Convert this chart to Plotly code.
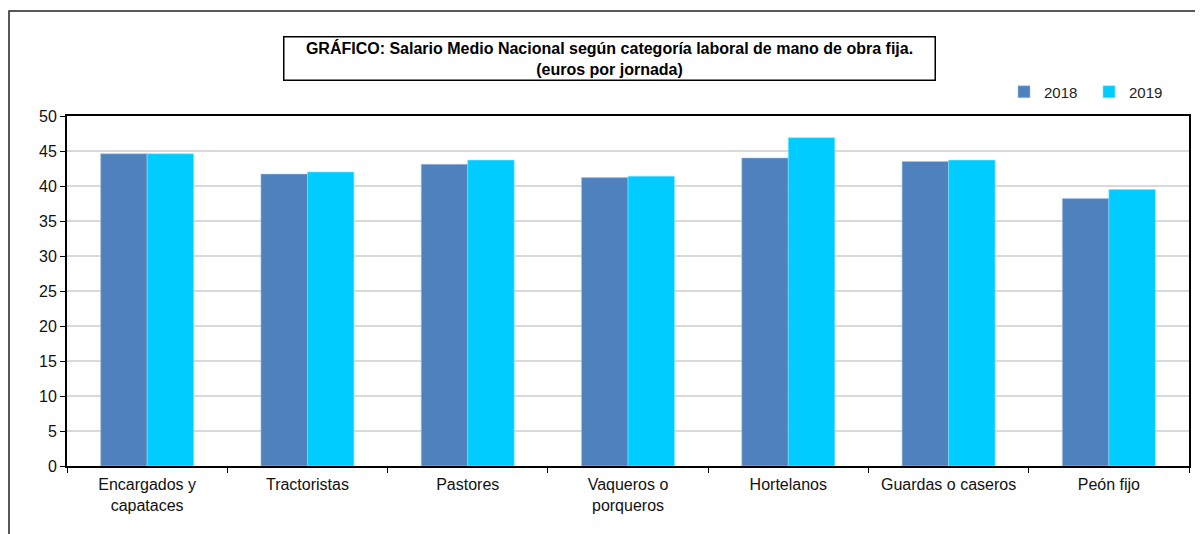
import plotly.graph_objects as go

categories = ["Encargados y<br>capataces", "Tractoristas", "Pastores", "Vaqueros o<br>porqueros",
              "Hortelanos", "Guardas o caseros", "Peón fijo"]
values_2018 = [44.6, 41.7, 43.1, 41.2, 44.0, 43.5, 38.2]
values_2019 = [44.6, 42.0, 43.7, 41.4, 46.9, 43.7, 39.5]
y_ticks = [0, 5, 10, 15, 20, 25, 30, 35, 40, 45, 50]
title_text = ("<b>GRÁFICO: Salario Medio Nacional según categoría laboral de mano de obra fija.</b><br>"
              "<b>(euros por jornada)</b>")

FONT = "Liberation Sans, Arial, sans-serif"
# the page body adds an 8px offset; the figure is sized so it ends at the window edges
OFF = 8
WIN_W, WIN_H = 1203, 534
PL, PR, PT, PB = 67, 1189, 116, 466   # plot area in window pixels
W, H = WIN_W - OFF, WIN_H - OFF
L, R, T, B = PL - OFF, WIN_W - PR, PT - OFF, WIN_H - PB
pw, ph = PR - PL, PB - PT

def px(x):
    return (x - PL) / pw

def py(y):
    return (PB - y) / ph

fig = go.Figure()
fig.add_trace(go.Bar(name="2018", x=categories, y=values_2018,
                     marker=dict(color="#4F81BD", line=dict(color="#A9C1E0", width=0.6))))
fig.add_trace(go.Bar(name="2019", x=categories, y=values_2019,
                     marker=dict(color="#00CCFF", line=dict(color="#7FE5FF", width=0.6))))

fig.update_layout(
    width=W, height=H,
    margin=dict(l=L, r=R, t=T, b=B, pad=0),
    paper_bgcolor="white", plot_bgcolor="white",
    font=dict(family=FONT, size=16, color="black"),
    barmode="group", bargap=0.42, bargroupgap=0,
    showlegend=True,
    legend=dict(orientation="h", x=px(1004), xanchor="left", y=py(92), yanchor="middle",
                font=dict(size=15, color="#222222"), entrywidth=40, entrywidthmode="pixels",
                bgcolor="rgba(0,0,0,0)", traceorder="normal"),
    xaxis=dict(type="category", showline=True, linecolor="black", linewidth=2, mirror=True,
               ticks="outside", tickson="boundaries", ticklen=5, tickcolor="black",
               ticklabelstandoff=3,
               showgrid=False, tickfont=dict(size=16, color="#111111"), automargin=False),
    yaxis=dict(range=[0, 50], tickvals=y_ticks, showline=True, linecolor="black", linewidth=2,
               mirror=True, ticks="outside", ticklen=5, tickcolor="black",
               showgrid=True, gridcolor="#D9D9D9", gridwidth=2,
               tickfont=dict(size=16, color="#111111"), zeroline=False, automargin=False),
    shapes=[dict(type="rect", xref="paper", yref="paper",
                 x0=px(9), x1=px(1220), y0=py(560), y1=py(11),
                 line=dict(color="#222222", width=1.5), fillcolor="rgba(0,0,0,0)", layer="below")],
    annotations=[dict(text=title_text, xref="paper", yref="paper",
                      x=px(609.5), y=py(58), xanchor="center", yanchor="middle",
                      showarrow=False, font=dict(size=16, family=FONT, color="black"),
                      bordercolor="black", borderwidth=1.5, borderpad=1,
                      width=648, height=40, align="center", bgcolor="white")],
)

fig.write_html("out.html")
